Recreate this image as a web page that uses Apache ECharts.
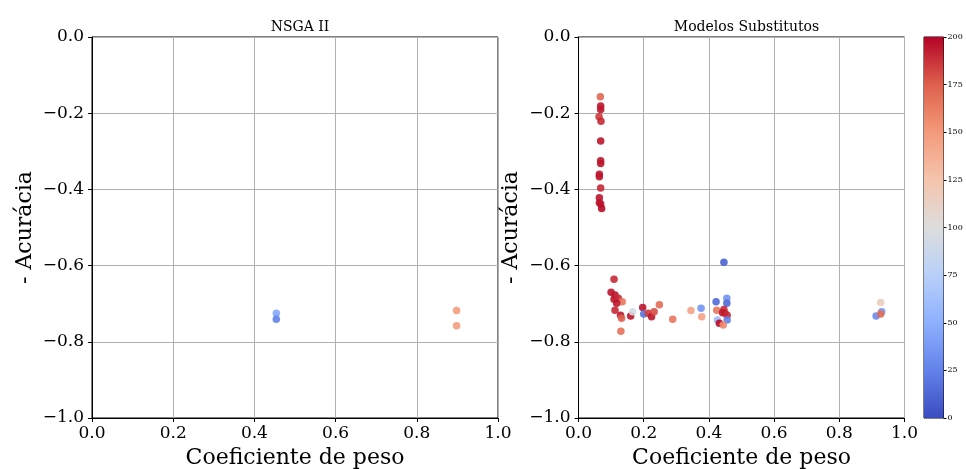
<!DOCTYPE html>
<html><head><meta charset="utf-8">
<script src="https://cdn.jsdelivr.net/npm/echarts@6/dist/echarts.min.js"></script>
<style>html,body{margin:0;padding:0;background:#fff}#c{width:966px;height:469px}</style>
</head><body><div id="c"></div>
<script>
// NSGA II (left)
const nsgaX = [0.454, 0.454, 0.898, 0.898];
const nsgaY = [-0.725, -0.741, -0.718, -0.758];
const nsgaC = [45, 25, 148, 148];
// Modelos Substitutos (right)
const subX = [0.067,0.068,0.068,0.063,0.069,0.068,0.068,0.068,0.064,0.064,0.068,0.064,0.064,0.068,0.071,
  0.109,0.100,0.112,0.109,0.122,0.134,0.117,0.112,0.129,0.132,0.160,0.166,0.130,0.197,0.200,0.214,0.224,0.232,0.248,0.289,0.345,0.376,0.378,
  0.446,0.422,0.455,0.455,0.424,0.446,0.449,0.442,0.456,0.456,0.426,0.432,0.444,
  0.927,0.930,0.913,0.927];
const subY = [-0.157,-0.181,-0.190,-0.209,-0.221,-0.273,-0.325,-0.332,-0.360,-0.367,-0.396,-0.422,-0.435,-0.438,-0.450,
  -0.636,-0.670,-0.677,-0.688,-0.686,-0.695,-0.699,-0.717,-0.730,-0.738,-0.732,-0.721,-0.772,-0.710,-0.727,-0.725,-0.734,-0.721,-0.703,-0.741,-0.718,-0.712,-0.734,
  -0.591,-0.695,-0.686,-0.699,-0.717,-0.715,-0.724,-0.724,-0.730,-0.743,-0.743,-0.751,-0.756,
  -0.697,-0.721,-0.732,-0.727];
const subC = [172,195,195,185,190,195,195,195,195,195,190,195,195,195,198,
  190,195,195,195,190,165,195,190,195,175,195,95,168,195,20,185,195,180,170,165,145,35,145,
  10,15,35,15,165,190,185,195,190,25,60,198,158,
  115,35,30,170];
const xTicks = [0, 0.2, 0.4, 0.6, 0.8, 1.0];
const yTicks = [-1.0, -0.8, -0.6, -0.4, -0.2, 0.0];
const cbTicks = [0, 25, 50, 75, 100, 125, 150, 175, 200];
const titles = ['NSGA II', 'Modelos Substitutos'];

const coolwarm = ['#3b4cc0','#6282ea','#8db0fe','#b8d0f9','#dddddd','#f5c4ad','#f49a7b','#de604d','#b40426'];
const FONT = 'DejaVu Serif';
const grids = [
  {left: 92, top: 37, width: 406, height: 381},
  {left: 578.5, top: 37, width: 326, height: 381},
  {left: 924, top: 37, width: 19.5, height: 381}
];
const fmt = v => v.toFixed(1).replace('-', '\u2212');

function xAxis(i) {
  return {gridIndex: i, type: 'value', min: xTicks[0], max: xTicks[xTicks.length-1], interval: 0.2,
    name: 'Coeficiente de peso', nameLocation: 'middle', nameGap: 29,
    nameTextStyle: {fontFamily: FONT, fontSize: 22, color: '#000'},
    axisLine: {show: true, onZero: false, lineStyle: {color: '#000', width: 1}},
    axisTick: {show: true, length: 4, lineStyle: {color: '#000'}},
    axisLabel: {fontFamily: FONT, fontSize: 17, color: '#000', margin: 7, formatter: fmt},
    splitLine: {show: true, lineStyle: {color: '#b0b0b0', width: 1}}};
}
function yAxis(i) {
  return {gridIndex: i, type: 'value', min: yTicks[0], max: yTicks[yTicks.length-1], interval: 0.2,
    name: '- Acurácia', nameLocation: 'middle', nameGap: 56,
    nameTextStyle: {fontFamily: FONT, fontSize: 22, color: '#000'},
    axisLine: {show: true, onZero: false, lineStyle: {color: '#000', width: 1}},
    axisTick: {show: true, length: 4, lineStyle: {color: '#000'}},
    axisLabel: {fontFamily: FONT, fontSize: 17, color: '#000', margin: 8, formatter: fmt},
    splitLine: {show: true, lineStyle: {color: '#b0b0b0', width: 1}}};
}
const stops = coolwarm.map((c, k) => ({offset: k / (coolwarm.length - 1), color: c}));

const option = {
  animation: false,
  backgroundColor: '#fff',
  title: titles.map((t, i) => ({text: t, left: grids[i].left + grids[i].width / 2, top: 15, textAlign: 'center',
    textStyle: {fontFamily: FONT, fontSize: 14, fontWeight: 'normal', color: '#000'}})),
  grid: grids.map(g => Object.assign({show: true, borderColor: '#000', borderWidth: 1, backgroundColor: 'transparent',
    containLabel: false, outerBoundsMode: 'none'}, g)),
  xAxis: [xAxis(0), xAxis(1), {gridIndex: 2, type: 'category', data: ['cb'], show: false}],
  yAxis: [yAxis(0), yAxis(1), {gridIndex: 2, type: 'value', min: 0, max: 200, interval: 25, position: 'right',
    axisLine: {show: false}, splitLine: {show: false},
    axisTick: {show: true, length: 3, lineStyle: {color: '#000'}},
    axisLabel: {fontFamily: FONT, fontSize: 8, color: '#000', margin: 4}}],
  visualMap: {show: false, type: 'continuous', min: 0, max: 200, dimension: 2, seriesIndex: [0, 1],
    inRange: {color: coolwarm}},
  series: [
    {type: 'scatter', xAxisIndex: 0, yAxisIndex: 0, symbolSize: 7.5, itemStyle: {opacity: 0.9},
      data: nsgaX.map((x, k) => [x, nsgaY[k], nsgaC[k]])},
    {type: 'scatter', xAxisIndex: 1, yAxisIndex: 1, symbolSize: 7.5, itemStyle: {opacity: 0.9},
      data: subX.map((x, k) => [x, subY[k], subC[k]])},
    {type: 'bar', xAxisIndex: 2, yAxisIndex: 2, barWidth: '100%', silent: true,
      itemStyle: {color: new echarts.graphic.LinearGradient(0, 1, 0, 0, stops)},
      data: [cbTicks[cbTicks.length - 1]]}
  ]
};
const chart = echarts.init(document.getElementById('c'), null, {renderer: 'canvas'});
chart.setOption(option);
</script></body></html>
